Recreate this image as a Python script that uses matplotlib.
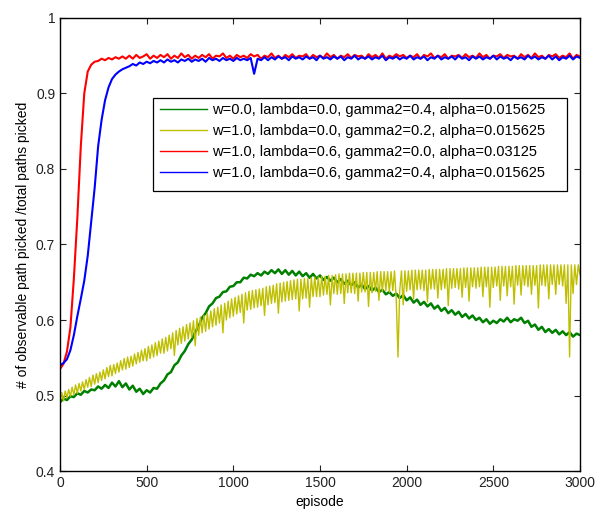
"""Fraction of observable paths picked per episode, four parameter settings."""

import matplotlib
matplotlib.use("Agg")
import matplotlib.pyplot as plt
from matplotlib.patches import Rectangle
import numpy as np

# episodes sampled every 20 (every 10 for the noisier yellow run)
EPISODES = np.arange(0, 3001, 20)
EPISODES_FINE = np.arange(0, 3001, 10)

GREEN = [
    0.491, 0.496, 0.494, 0.499, 0.498, 0.503, 0.501, 0.506, 0.504, 0.508,
    0.507, 0.512, 0.509, 0.514, 0.510, 0.517, 0.512, 0.519, 0.511, 0.516,
    0.508, 0.513, 0.505, 0.509, 0.502, 0.507, 0.504, 0.510, 0.509, 0.516,
    0.520, 0.528, 0.531, 0.540, 0.544, 0.553, 0.559, 0.568, 0.574, 0.584,
    0.592, 0.603, 0.609, 0.618, 0.622, 0.629, 0.631, 0.637, 0.638, 0.644,
    0.645, 0.650, 0.650, 0.656, 0.655, 0.660, 0.658, 0.662, 0.659, 0.664,
    0.661, 0.666, 0.662, 0.667, 0.661, 0.666, 0.660, 0.665, 0.659, 0.664,
    0.658, 0.662, 0.656, 0.661, 0.655, 0.659, 0.653, 0.657, 0.652, 0.656,
    0.650, 0.654, 0.648, 0.652, 0.646, 0.650, 0.643, 0.647, 0.641, 0.645,
    0.639, 0.643, 0.637, 0.640, 0.634, 0.637, 0.632, 0.635, 0.629, 0.633,
    0.626, 0.630, 0.623, 0.627, 0.620, 0.624, 0.618, 0.622, 0.615, 0.619,
    0.612, 0.616, 0.609, 0.613, 0.607, 0.611, 0.604, 0.608, 0.602, 0.606,
    0.600, 0.603, 0.597, 0.601, 0.595, 0.599, 0.596, 0.601, 0.598, 0.603,
    0.597, 0.601, 0.599, 0.603, 0.596, 0.599, 0.591, 0.594, 0.587, 0.591,
    0.584, 0.588, 0.583, 0.587, 0.581, 0.585, 0.580, 0.584, 0.578, 0.582,
    0.580,
]

YELLOW = [
    0.491, 0.504, 0.493, 0.506, 0.497, 0.508, 0.499, 0.511, 0.501, 0.514,
    0.503, 0.516, 0.506, 0.518, 0.508, 0.521, 0.511, 0.524, 0.512, 0.527,
    0.515, 0.529, 0.517, 0.531, 0.520, 0.534, 0.522, 0.537, 0.525, 0.540,
    0.526, 0.541, 0.529, 0.543, 0.531, 0.546, 0.534, 0.549, 0.535, 0.551,
    0.537, 0.552, 0.539, 0.555, 0.542, 0.557, 0.544, 0.560, 0.546, 0.562,
    0.546, 0.565, 0.549, 0.567, 0.551, 0.570, 0.553, 0.572, 0.556, 0.575,
    0.556, 0.577, 0.559, 0.580, 0.562, 0.583, 0.553, 0.586, 0.567, 0.589,
    0.569, 0.591, 0.572, 0.594, 0.575, 0.596, 0.577, 0.599, 0.566, 0.602,
    0.580, 0.604, 0.583, 0.606, 0.585, 0.609, 0.588, 0.612, 0.591, 0.615,
    0.593, 0.617, 0.596, 0.620, 0.583, 0.622, 0.600, 0.625, 0.603, 0.628,
    0.605, 0.630, 0.608, 0.632, 0.610, 0.634, 0.596, 0.636, 0.613, 0.638,
    0.614, 0.639, 0.616, 0.640, 0.617, 0.641, 0.619, 0.642, 0.606, 0.644,
    0.620, 0.645, 0.622, 0.646, 0.623, 0.648, 0.609, 0.649, 0.624, 0.650,
    0.625, 0.651, 0.626, 0.652, 0.627, 0.653, 0.628, 0.654, 0.612, 0.654,
    0.628, 0.655, 0.629, 0.655, 0.617, 0.656, 0.631, 0.657, 0.631, 0.657,
    0.631, 0.658, 0.633, 0.658, 0.634, 0.659, 0.620, 0.659, 0.635, 0.660,
    0.634, 0.661, 0.635, 0.661, 0.622, 0.661, 0.636, 0.662, 0.636, 0.662,
    0.635, 0.662, 0.625, 0.662, 0.637, 0.663, 0.637, 0.663, 0.618, 0.663,
    0.636, 0.663, 0.638, 0.664, 0.626, 0.664, 0.638, 0.664, 0.639, 0.664,
    0.637, 0.664, 0.639, 0.665, 0.627, 0.551, 0.639, 0.665, 0.620, 0.665,
    0.638, 0.665, 0.640, 0.666, 0.628, 0.666, 0.640, 0.666, 0.641, 0.666,
    0.639, 0.666, 0.624, 0.667, 0.641, 0.667, 0.641, 0.667, 0.629, 0.667,
    0.640, 0.667, 0.642, 0.668, 0.619, 0.668, 0.642, 0.668, 0.643, 0.668,
    0.641, 0.668, 0.630, 0.669, 0.643, 0.669, 0.625, 0.669, 0.644, 0.669,
    0.642, 0.669, 0.644, 0.670, 0.631, 0.670, 0.644, 0.670, 0.617, 0.670,
    0.643, 0.670, 0.645, 0.671, 0.626, 0.671, 0.645, 0.671, 0.632, 0.671,
    0.644, 0.671, 0.621, 0.672, 0.646, 0.672, 0.633, 0.672, 0.646, 0.672,
    0.644, 0.672, 0.634, 0.672, 0.646, 0.672, 0.616, 0.673, 0.646, 0.673,
    0.645, 0.673, 0.628, 0.673, 0.647, 0.673, 0.634, 0.673, 0.647, 0.673,
    0.645, 0.673, 0.622, 0.673, 0.551, 0.673, 0.635, 0.673, 0.647, 0.673,
    0.660,
]

RED = [
    0.535, 0.542, 0.558, 0.590, 0.655, 0.735, 0.830, 0.900, 0.929, 0.938,
    0.942, 0.943, 0.946, 0.944, 0.947, 0.945, 0.948, 0.946, 0.949, 0.946,
    0.950, 0.946, 0.951, 0.947, 0.949, 0.952, 0.946, 0.950, 0.947, 0.951,
    0.948, 0.952, 0.946, 0.950, 0.947, 0.953, 0.948, 0.951, 0.946, 0.950,
    0.947, 0.951, 0.948, 0.952, 0.946, 0.950, 0.949, 0.953, 0.947, 0.950,
    0.946, 0.951, 0.948, 0.950, 0.947, 0.952, 0.949, 0.951, 0.946, 0.950,
    0.948, 0.953, 0.947, 0.950, 0.946, 0.951, 0.948, 0.952, 0.947, 0.950,
    0.949, 0.952, 0.946, 0.951, 0.948, 0.950, 0.947, 0.953, 0.948, 0.951,
    0.946, 0.950, 0.948, 0.952, 0.947, 0.951, 0.949, 0.950, 0.946, 0.952,
    0.948, 0.951, 0.947, 0.953, 0.946, 0.950, 0.948, 0.952, 0.949, 0.951,
    0.947, 0.950, 0.948, 0.952, 0.946, 0.951, 0.949, 0.953, 0.947, 0.950,
    0.948, 0.952, 0.946, 0.950, 0.949, 0.951, 0.947, 0.952, 0.948, 0.950,
    0.947, 0.953, 0.948, 0.951, 0.946, 0.950, 0.949, 0.952, 0.947, 0.951,
    0.949, 0.950, 0.946, 0.952, 0.948, 0.951, 0.947, 0.953, 0.948, 0.950,
    0.946, 0.951, 0.949, 0.952, 0.947, 0.950, 0.948, 0.953, 0.946, 0.951,
    0.949,
]

BLUE = [
    0.540, 0.543, 0.548, 0.560, 0.580, 0.605, 0.628, 0.652, 0.685, 0.730,
    0.775, 0.830, 0.865, 0.891, 0.908, 0.919, 0.925, 0.929, 0.932, 0.934,
    0.936, 0.939, 0.937, 0.941, 0.939, 0.942, 0.940, 0.943, 0.941, 0.944,
    0.941, 0.945, 0.942, 0.944, 0.941, 0.945, 0.943, 0.946, 0.942, 0.945,
    0.943, 0.946, 0.942, 0.947, 0.944, 0.946, 0.943, 0.947, 0.944, 0.946,
    0.943, 0.947, 0.944, 0.946, 0.944, 0.947, 0.926, 0.946, 0.944, 0.948,
    0.944, 0.948, 0.945, 0.949, 0.946, 0.948, 0.944, 0.949, 0.946, 0.948,
    0.945, 0.949, 0.946, 0.948, 0.944, 0.950, 0.946, 0.948, 0.945, 0.949,
    0.946, 0.949, 0.944, 0.948, 0.946, 0.950, 0.945, 0.948, 0.946, 0.949,
    0.945, 0.948, 0.946, 0.950, 0.944, 0.948, 0.946, 0.949, 0.945, 0.948,
    0.946, 0.950, 0.945, 0.948, 0.946, 0.949, 0.944, 0.948, 0.946, 0.950,
    0.945, 0.948, 0.946, 0.949, 0.945, 0.950, 0.946, 0.948, 0.944, 0.949,
    0.946, 0.949, 0.945, 0.948, 0.946, 0.950, 0.945, 0.949, 0.946, 0.948,
    0.944, 0.949, 0.946, 0.948, 0.945, 0.950, 0.946, 0.949, 0.945, 0.948,
    0.946, 0.950, 0.945, 0.949, 0.944, 0.948, 0.946, 0.950, 0.945, 0.949,
    0.947,
]

LABELS = [
    "w=0.0, lambda=0.0, gamma2=0.4, alpha=0.015625",
    "w=1.0, lambda=0.0, gamma2=0.2, alpha=0.015625",
    "w=1.0, lambda=0.6, gamma2=0.0, alpha=0.03125",
    "w=1.0, lambda=0.6, gamma2=0.4, alpha=0.015625",
]
COLORS = ["#008000", "#bfbf00", "#ff0000", "#0000ff"]
WIDTHS = [1.8, 1.0, 1.5, 1.5]

X_TICKS = [0, 500, 1000, 1500, 2000, 2500, 3000]
Y_TICKS = [0.4, 0.5, 0.6, 0.7, 0.8, 0.9, 1.0]
Y_TICK_LABELS = ["0.4", "0.5", "0.6", "0.7", "0.8", "0.9", "1"]

plt.rcParams["font.family"] = ["Liberation Sans", "DejaVu Sans"]
plt.rcParams["font.size"] = 10

fig = plt.figure(figsize=(5.97, 5.12), dpi=100)
ax = fig.add_axes([0.1005, 0.080, 0.871, 0.885])

runs = [
    (EPISODES, GREEN),
    (EPISODES_FINE, YELLOW),
    (EPISODES, RED),
    (EPISODES, BLUE),
]
handles = []
for (xs, ys), color, lw, label in zip(runs, COLORS, WIDTHS, LABELS):
    (line,) = ax.plot(xs, ys, color=color, lw=lw, label=label)
    handles.append(line)

ax.set_xlim(0, 3000)
ax.set_ylim(0.4, 1.0)
ax.set_xticks(X_TICKS)
ax.set_xticklabels([str(t) for t in X_TICKS])
ax.set_yticks(Y_TICKS)
ax.set_yticklabels(Y_TICK_LABELS)
ax.tick_params(direction="in", top=True, right=True, length=4, width=0.8,
               colors="#222222", labelsize=10)
for spine in ax.spines.values():
    spine.set_linewidth(1.0)

ax.set_xlabel("episode", fontsize=10)
ax.set_ylabel("# of observable path picked /total paths picked", fontsize=10)

# MATLAB-style legend box: wider than its text on the right
box = Rectangle((0.179, 0.618), 0.796, 0.205, transform=ax.transAxes,
                facecolor="white", edgecolor="black", lw=0.9, zorder=4)
ax.add_patch(box)
leg = ax.legend(handles=handles, loc="upper left", bbox_to_anchor=(0.193, 0.812),
                frameon=False, handlelength=3.2, handletextpad=0.35,
                borderpad=0, labelspacing=0.48, borderaxespad=0, fontsize=10.5)
leg.set_zorder(5)
for h in leg.legend_handles:
    h.set_linewidth(1.0)

fig.savefig("out.png", dpi=100)
